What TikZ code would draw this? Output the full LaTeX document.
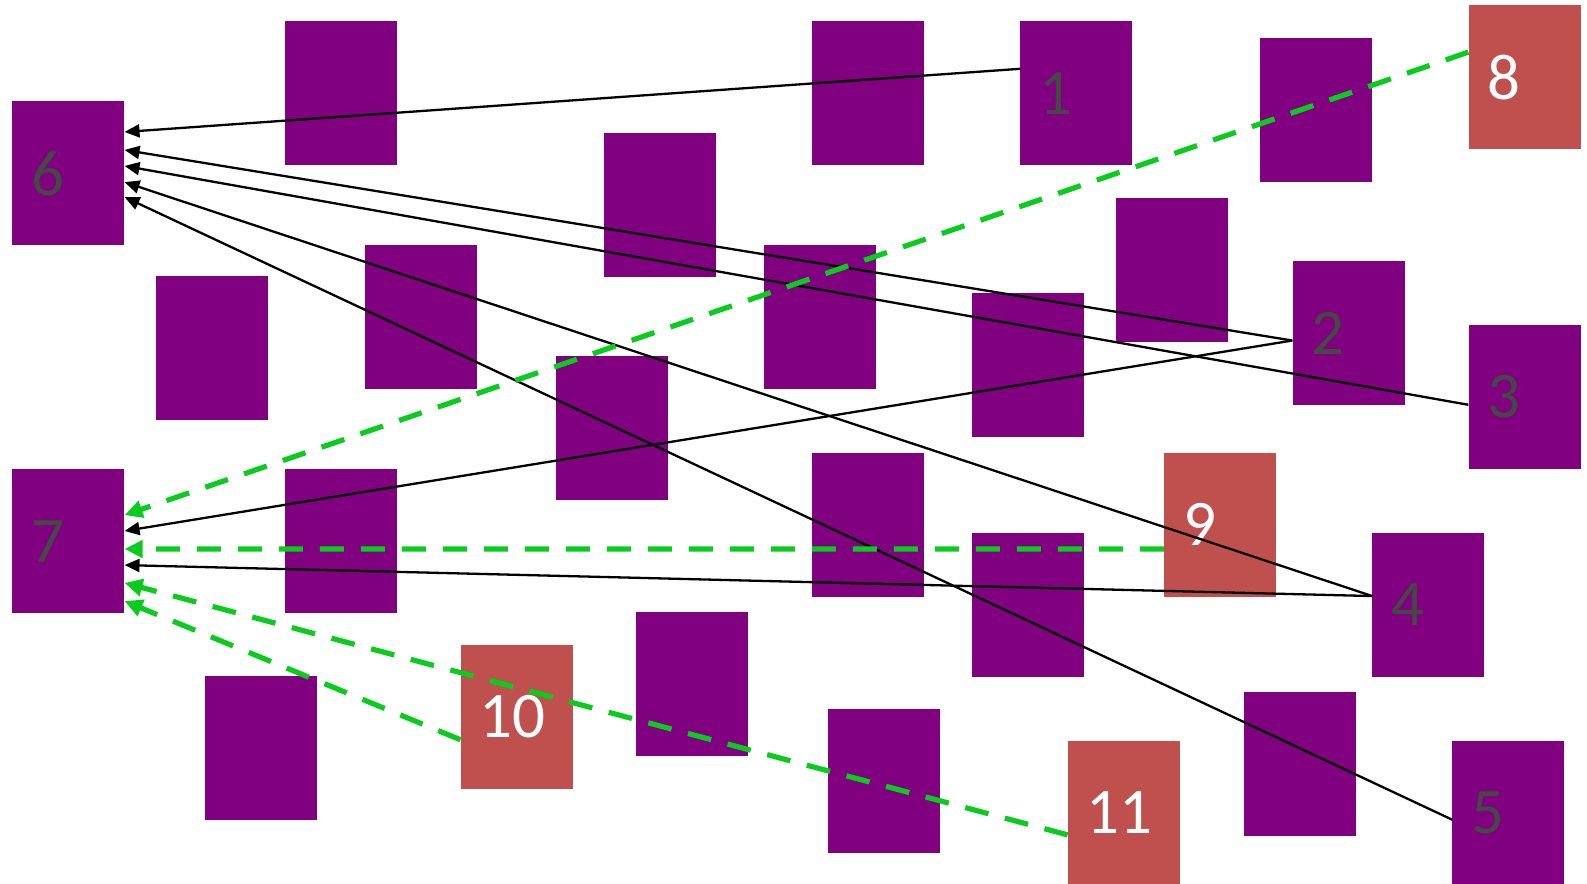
\documentclass[tikz,border=0pt]{standalone}
\usepackage{fontspec}
\setmainfont{Carlito}
\usetikzlibrary{arrows.meta,calc}
\definecolor{boxpurple}{HTML}{800080}
\definecolor{boxred}{HTML}{C0504D}
\definecolor{labgray}{HTML}{474747}
\definecolor{lnkgreen}{HTML}{0ACC1E}
\tikzset{
  pbox/.style={fill=boxpurple, draw=none, minimum width=112pt, minimum height=144pt, inner sep=0pt, anchor=north west},
  rbox/.style={pbox, fill=boxred},
  plab/.style={anchor=west, inner sep=0pt, text=labgray, font=\fontsize{65}{70}\selectfont},
  rlab/.style={plab, text=white},
  blk/.style={draw=black, line width=2.3pt, -{Triangle[length=15pt,width=13pt]}},
  grn/.style={draw=lnkgreen, line width=5.2pt, dash pattern=on 24pt off 17pt, -{Triangle[length=18pt,width=17pt]}}
}
\begin{document}
\begin{tikzpicture}[x=1.012pt,y=-1.012pt]
\useasboundingbox (0,0) rectangle (1568.2,873.5);
% plain boxes
\node[pbox] (p1) at (281,21) {};
\node[pbox] (p2) at (802,21) {};
\node[pbox] (p3) at (1245,37) {};
\node[pbox] (p4) at (597,131) {};
\node[pbox] (p5) at (1103,195) {};
\node[pbox] (p6) at (154,273) {};
\node[pbox] (p7) at (360,242) {};
\node[pbox] (p8) at (755,242) {};
\node[pbox] (p9) at (960,289) {};
\node[pbox] (p10) at (549,352) {};
\node[pbox] (p11) at (281,463) {};
\node[pbox] (p12) at (802,447) {};
\node[pbox] (p13) at (960,526) {};
\node[pbox] (p14) at (628,605) {};
\node[pbox] (p15) at (202,668) {};
\node[pbox] (p16) at (818,700) {};
\node[pbox] (p17) at (1229,684) {};
% numbered boxes
\node[pbox] (n6) at (12,100) {};
\node[pbox] (n7) at (12,463.4) {};
\node[pbox] (n1) at (1008,21) {};
\node[pbox] (n2) at (1277,258) {};
\node[pbox] (n3) at (1451,321) {};
\node[pbox] (n4) at (1356,526) {};
\node[pbox] (n5) at (1435,732) {};
\node[rbox] (n8) at (1451,5) {};
\node[rbox] (n9) at (1150,447) {};
\node[rbox] (n10) at (455,637) {};
\node[rbox] (n11) at (1055,732) {};
% labels
\node[plab] (t6) at ([xshift=19pt]n6.west) {6};
\node[plab] (t7) at ([xshift=19pt]n7.west) {7};
\node[plab] (t1) at ([xshift=19pt]n1.west) {1};
\node[plab] (t2) at ([xshift=19pt]n2.west) {2};
\node[plab] (t3) at ([xshift=19pt]n3.west) {3};
\node[plab] (t4) at ([xshift=19pt]n4.west) {4};
\node[plab] (t5) at ([xshift=19pt]n5.west) {5};
\node[rlab] (t8) at ([xshift=19pt]n8.west) {8};
\node[rlab] (t9) at ([xshift=19pt]n9.west) {9};
\node[rlab] (t10) at ([xshift=19pt]n10.west) {10};
\node[rlab] (t11) at ([xshift=19pt]n11.west) {11};
% black connectors
\draw[blk] ($(n1.north west)+(0,47)$) -- ($(n6.north east)+(0,30.4)$);
\draw[blk] ($(n2.north west)+(0,78.5)$) -- ($(n6.north east)+(0,48.2)$);
\draw[blk] ($(n3.north west)+(0,79)$) -- ($(n6.north east)+(0,64)$);
\draw[blk] ($(n4.north west)+(0,63)$) -- ($(n6.north east)+(0,80)$);
\draw[blk] ($(n5.north west)+(0,78)$) -- ($(n6.north east)+(0,94.7)$);
\draw[blk] ($(n2.north west)+(0,78.5)$) -- ($(n7.north east)+(0,61.3)$);
\draw[blk] ($(n4.north west)+(0,63)$) -- ($(n7.north east)+(0,95)$);
% green dashed connectors
\draw[grn] ($(n8.north west)+(0,46.5)$) -- ($(n7.north east)+(0,45.6)$);
\draw[grn] ($(n9.north west)+(0,95.5)$) -- ($(n7.north east)+(0,79.1)$);
\draw[grn] ($(n11.north west)+(0,93)$) -- ($(n7.north east)+(0,112.6)$);
\draw[grn] ($(n10.north west)+(0,94)$) -- ($(n7.north east)+(0,130.6)$);
\end{tikzpicture}
\end{document}
